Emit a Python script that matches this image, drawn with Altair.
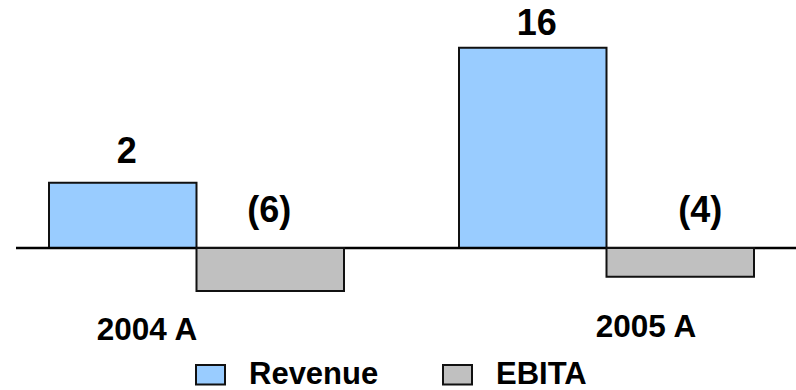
import altair as alt
import pandas as pd

# Figures in millions; negatives shown in brackets
years = ["2004 A", "2005 A"]
series = ["Revenue", "EBITA"]
revenue = [2, 16]
ebita = [-6, -4]

rows = []
for i, yr in enumerate(years):
    rows.append({"year": yr, "series": "Revenue", "value": revenue[i]})
    rows.append({"year": yr, "series": "EBITA", "value": ebita[i]})
df = pd.DataFrame(rows)

FONT = "Liberation Sans"
W, H = 796, 390

x_enc = alt.X(
    "year:N",
    scale=alt.Scale(domain=years, range=[49, 754], paddingInner=0.2805, paddingOuter=0),
    axis=None,
)
xoff = alt.XOffset("series:N", scale=alt.Scale(domain=series, paddingInner=0, paddingOuter=0))
color = alt.Color(
    "series:N",
    scale=alt.Scale(domain=series, range=["#99CCFF", "#C0C0C0"]),
    legend=alt.Legend(
        title=None,
        orient="none",
        legendX=195,
        legendY=359,
        direction="horizontal",
        symbolType="M-1,-0.67L1,-0.67L1,0.67L-1,0.67Z",
        symbolSize=841,
        symbolStrokeColor="#111111",
        symbolStrokeWidth=2,
        symbolOpacity=1,
        labelFont=FONT,
        labelFontWeight="bold",
        labelFontSize=31,
        labelColor="black",
        labelOffset=23,
        columnPadding=60,
        padding=0,
    ),
)

base = alt.Chart(df).transform_calculate(
    label="datum.value < 0 ? '(' + abs(datum.value) + ')' : '' + datum.value"
)

# Revenue panel (own vertical scale)
rev = base.transform_filter("datum.series == 'Revenue'")
rev_y = alt.Y(
    "value:Q",
    scale=alt.Scale(type="pow", exponent=0.54, domain=[0, 16], range=[248, 47.7], nice=False),
    axis=None,
)
rev_bars = rev.mark_bar(stroke="#111111", strokeWidth=2).encode(
    x=x_enc, xOffset=xoff, y=rev_y, y2=alt.datum(0), color=color
)
rev_text = rev.mark_text(
    font=FONT, fontWeight="bold", fontSize=36, baseline="alphabetic", color="black",
    dx=4, dy=alt.expr("datum.year == '2004 A' ? -20 : -13"),
).encode(x=x_enc, xOffset=xoff, y=rev_y, text="label:N")
baseline = rev.transform_filter("datum.year == '2004 A'").mark_rule(
    color="black", strokeWidth=2.5
).encode(x=alt.value(16), x2=alt.value(W), y=alt.datum(0))
cat_text = rev.mark_text(
    font=FONT, fontWeight="bold", fontSize=31.5, baseline="alphabetic", color="black",
    dx=alt.expr("datum.year == '2004 A' ? -49.5 : 39.5"),
    dy=alt.expr("datum.year == '2004 A' ? 92 : 89"),
).encode(x=x_enc, y=alt.datum(0), text="year:N")

rev_layer = alt.layer(rev_bars, rev_text, baseline, cat_text)

# EBITA panel (own vertical scale, same zero line)
eb = base.transform_filter("datum.series == 'EBITA'")
eb_y = alt.Y(
    "value:Q",
    scale=alt.Scale(domain=[-6, 0], range=[291, 248], nice=False),
    axis=None,
)
eb_bars = eb.mark_bar(stroke="#111111", strokeWidth=2).encode(
    x=x_enc, xOffset=xoff, y=eb_y, y2=alt.datum(0), color=color
)
eb_text = eb.mark_text(
    font=FONT, fontWeight="bold", fontSize=36, baseline="alphabetic", color="black",
    dx=alt.expr("datum.year == '2005 A' ? 20 : -1"), dy=-26,
).encode(x=x_enc, xOffset=xoff, y=alt.datum(0), text="label:N")
eb_layer = alt.layer(eb_bars, eb_text)

chart = (
    alt.layer(rev_layer, eb_layer)
    .resolve_scale(y="independent")
    .properties(width=W, height=H, autosize=alt.AutoSizeParams(type="none"), padding=0, background="white")
    .configure_view(stroke=None)
)

chart.save("out.html", embed_options={"renderer": "svg", "actions": False})
